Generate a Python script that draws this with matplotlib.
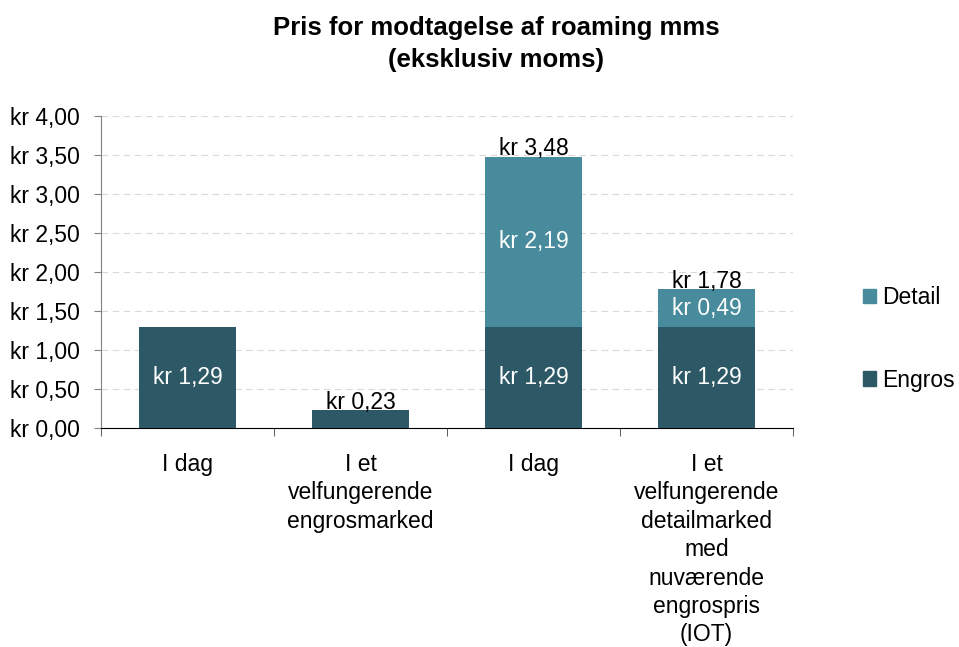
import matplotlib
matplotlib.use("Agg")
import matplotlib.pyplot as plt
from matplotlib.patches import Patch
import numpy as np

plt.rcParams['font.family'] = ['Liberation Sans', 'DejaVu Sans']

categories = ["I dag", "I et\nvelfungerende\nengrosmarked", "I dag",
              "I et\nvelfungerende\ndetailmarked\nmed\nnuværende\nengrospris\n(IOT)"]
engros = [1.29, 0.23, 1.29, 1.29]
detail = [0.0, 0.0, 2.19, 0.49]
yticks = [0, 0.5, 1.0, 1.5, 2.0, 2.5, 3.0, 3.5, 4.0]

c_engros = "#2D5866"
c_detail = "#478B9C"

def kr(v):
    return "kr " + f"{v:.2f}".replace(".", ",")

fig = plt.figure(figsize=(9.59, 6.47), dpi=100)
ax = fig.add_axes([101/959, 1-428/647, 692/959, 312/647])

x = np.arange(len(categories))
w = 0.56
ax.bar(x, engros, width=w, color=c_engros, zorder=3)
ax.bar(x, detail, width=w, bottom=engros, color=c_detail, zorder=3)

fs = 16.5
# segment labels
for i in range(len(x)):
    e, d = engros[i], detail[i]
    if e >= 0.5:
        ax.text(x[i], e/2, kr(e), ha='center', va='center', color='white', fontsize=fs, zorder=4)
    if d > 0:
        ax.text(x[i], e + d/2, kr(d), ha='center', va='center', color='white', fontsize=fs, zorder=4)
    tot = e + d
    if i > 0:
        ax.text(x[i], tot - 0.05, kr(tot), ha='center', va='bottom', color='black', fontsize=fs, zorder=4)

ax.set_xlim(-0.5, len(x)-0.5)
ax.set_ylim(0, 4.0)
ax.set_yticks(yticks)
ax.set_yticklabels([kr(v) for v in yticks], fontsize=fs)
ax.set_xticks(x)
ax.set_xticklabels(categories, fontsize=fs, linespacing=1.3, va='top')
ax.set_xticks(np.arange(-0.5, len(x), 1.0), minor=True)
ax.tick_params(axis='x', which='major', length=0, pad=18)
ax.tick_params(axis='x', which='minor', length=6, direction='out', color='#404040')
ax.tick_params(axis='y', length=5, direction='out', color='#808080', pad=10)

ax.grid(axis='y', color='#D9D9D9', linestyle=(0, (6, 4)), linewidth=0.8, zorder=0)
for s in ['top', 'right']:
    ax.spines[s].set_visible(False)
ax.spines['left'].set_color('#808080')
ax.spines['bottom'].set_color('black')

fig.text(496/959, 1-44/647, "Pris for modtagelse af roaming mms\n(eksklusiv moms)",
         ha='center', va='center', fontsize=18.5, fontweight='bold', linespacing=1.4)

handles = [Patch(color=c_detail), Patch(color=c_engros)]
fig.legend(handles, ["Detail", "Engros"], loc='center left',
           bbox_to_anchor=(842/959, 1-339/647), frameon=False, fontsize=fs,
           handlelength=0.6, handleheight=0.6, handletextpad=0.25, labelspacing=2.6)

fig.savefig("out.png", dpi=100)
